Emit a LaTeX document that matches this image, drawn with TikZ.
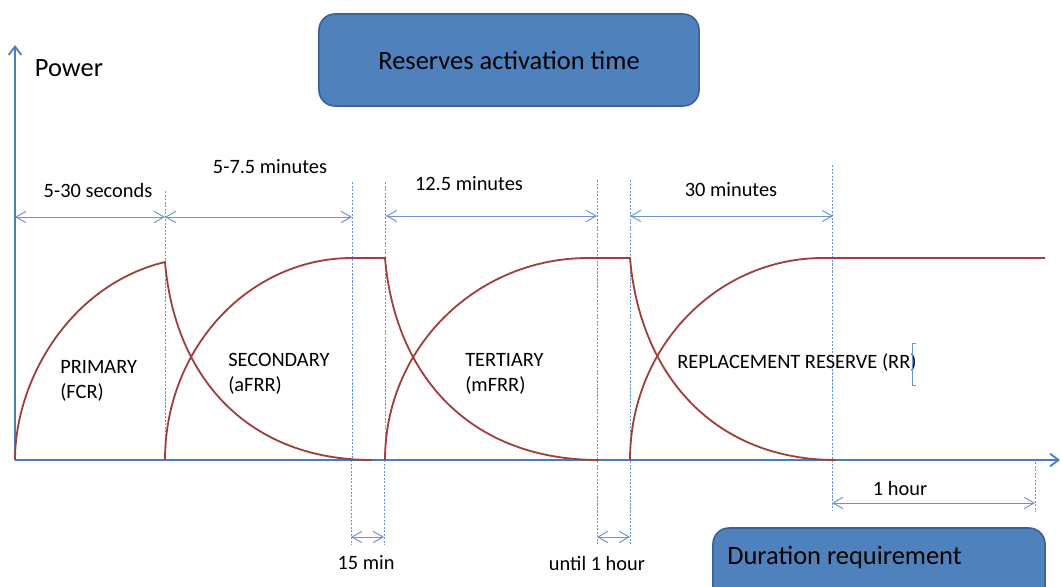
\documentclass[tikz,border=0pt]{standalone}
\usepackage{fontspec}
\setmainfont{Carlito}
\usetikzlibrary{arrows.meta}
\definecolor{axisblue}{HTML}{4A7EBB}
\definecolor{curvered}{HTML}{A0403C}
\definecolor{boxfill}{HTML}{4F81BD}
\definecolor{boxedge}{HTML}{3A6190}
\definecolor{guideblue}{HTML}{6A96CC}

\begin{document}
\begin{tikzpicture}[x=0.025cm, y=-0.025cm,
    axisline/.style={axisblue, line width=1.3pt, -{Straight Barb[length=6pt,width=9pt]}},
    curve/.style={curvered, line width=1.3pt},
    guide/.style={guideblue, line width=0.4pt, dash pattern=on 1.5pt off 1pt},
    dimarrow/.style={guideblue, line width=0.7pt, {Straight Barb[length=7pt,width=8pt]}-{Straight Barb[length=7pt,width=8pt]}},
    bluebox/.style={draw=boxedge, fill=boxfill, line width=1.1pt, rounded corners=0.4cm},
    lbl/.style={inner sep=0pt, font=\fontsize{14.5}{17.8}\selectfont},
    biglbl/.style={inner sep=0pt, font=\fontsize{18.8}{22}\selectfont}]
    \useasboundingbox (0,0) rectangle (1062,586);
    \clip (0,0) rectangle (1062,586);

    % key points of the curves
    \coordinate (o) at (15,460);
    \coordinate (ytop) at (15,45);
    \coordinate (xend) at (1060,460);
    \coordinate (p1) at (165,262);
    \coordinate (s0) at (165,460);
    \coordinate (s1) at (352,258);
    \coordinate (s2) at (385,258);
    \coordinate (t0) at (385,460);
    \coordinate (t1) at (588,258);
    \coordinate (t2) at (630,258);
    \coordinate (r0) at (630,460);
    \coordinate (r1) at (823,258);
    \coordinate (r2) at (1045,258);

    % guide lines
    \foreach \gx/\gt/\gb in {165/191/460, 352/182/460, 385/182/460, 351/460/545, 384/460/545,
        597/180/545, 630/180/545, 832/165/510, 1035/462/512}
        \draw[guide] (\gx,\gt) -- (\gx,\gb);

    % axes
    \draw[axisline] (o) -- (ytop);
    \draw[axisline] (o) -- (xend);
    \node[biglbl] (power) at (69,68) {Power};

    % reserve curves
    \draw[curve] (o) .. controls (15,380) and (70,285) .. (p1)
        .. controls (175,380) and (250,460) .. (372,460);
    \draw[curve] (s0) .. controls (165,348) and (249,258) .. (s1) -- (s2)
        .. controls (395,376) and (470,460) .. (599,460);
    \draw[curve] (t0) .. controls (385,348) and (476,258) .. (t1) -- (t2)
        .. controls (640,376) and (715,460) .. (836,460);
    \draw[curve] (r0) .. controls (630,348) and (716,258) .. (r1) -- (r2);

    % activation times
    \coordinate (a0) at (15,217);
    \coordinate (a1) at (165,217);
    \coordinate (a2) at (352,217);
    \coordinate (a3) at (386,216);
    \coordinate (a4) at (597,216);
    \coordinate (a5) at (630,216);
    \coordinate (a6) at (833,216);
    \draw[dimarrow] (a0) -- (a1);
    \draw[dimarrow] (a1) -- (a2);
    \draw[dimarrow] (a3) -- (a4);
    \draw[dimarrow] (a5) -- (a6);
    \node[lbl] (fcrtime) at (98,190) {5-30 seconds};
    \node[lbl] (afrrtime) at (270,167) {5-7.5 minutes};
    \node[lbl] (mfrrtime) at (469,184) {12.5 minutes};
    \node[lbl] (rrtime) at (731,190) {30 minutes};

    % gaps and duration
    \coordinate (g0) at (351,537);
    \coordinate (g1) at (384,537);
    \coordinate (g2) at (597,537);
    \coordinate (g3) at (630,537);
    \coordinate (h0) at (832,503);
    \coordinate (h1) at (1035,503);
    \draw[dimarrow] (g0) -- (g1);
    \draw[dimarrow] (g2) -- (g3);
    \draw[dimarrow] (h0) -- (h1);
    \node[lbl] (gap1) at (366,563) {15 min};
    \node[lbl] (gap2) at (597,563) {until 1 hour};
    \node[lbl] (hour) at (900,488) {1 hour};

    % reserve names
    \node[lbl, anchor=west, align=left] (fcr) at (60,381) {PRIMARY\\(FCR)};
    \node[lbl, anchor=west, align=left] (afrr) at (228,374) {SECONDARY\\(aFRR)};
    \node[lbl, anchor=west, align=left] (mfrr) at (465,374) {TERTIARY\\(mFRR)};
    \node[lbl, anchor=west] (rr) at (677,362) {REPLACEMENT RESERVE (RR)};
    \draw[guideblue, line width=0.5pt] (916,343) -- (912,343) -- (912,385) -- (916,385);

    % boxes
    \node[bluebox, minimum width=9.5cm, minimum height=2.3cm, biglbl] (act) at (509,60) {Reserves activation time};
    \node[bluebox, minimum width=8.3cm, minimum height=2.3cm] (dur) at (879,574) {};
    \node[biglbl, anchor=west] (durtxt) at (727,557) {Duration requirement};
\end{tikzpicture}
\end{document}
